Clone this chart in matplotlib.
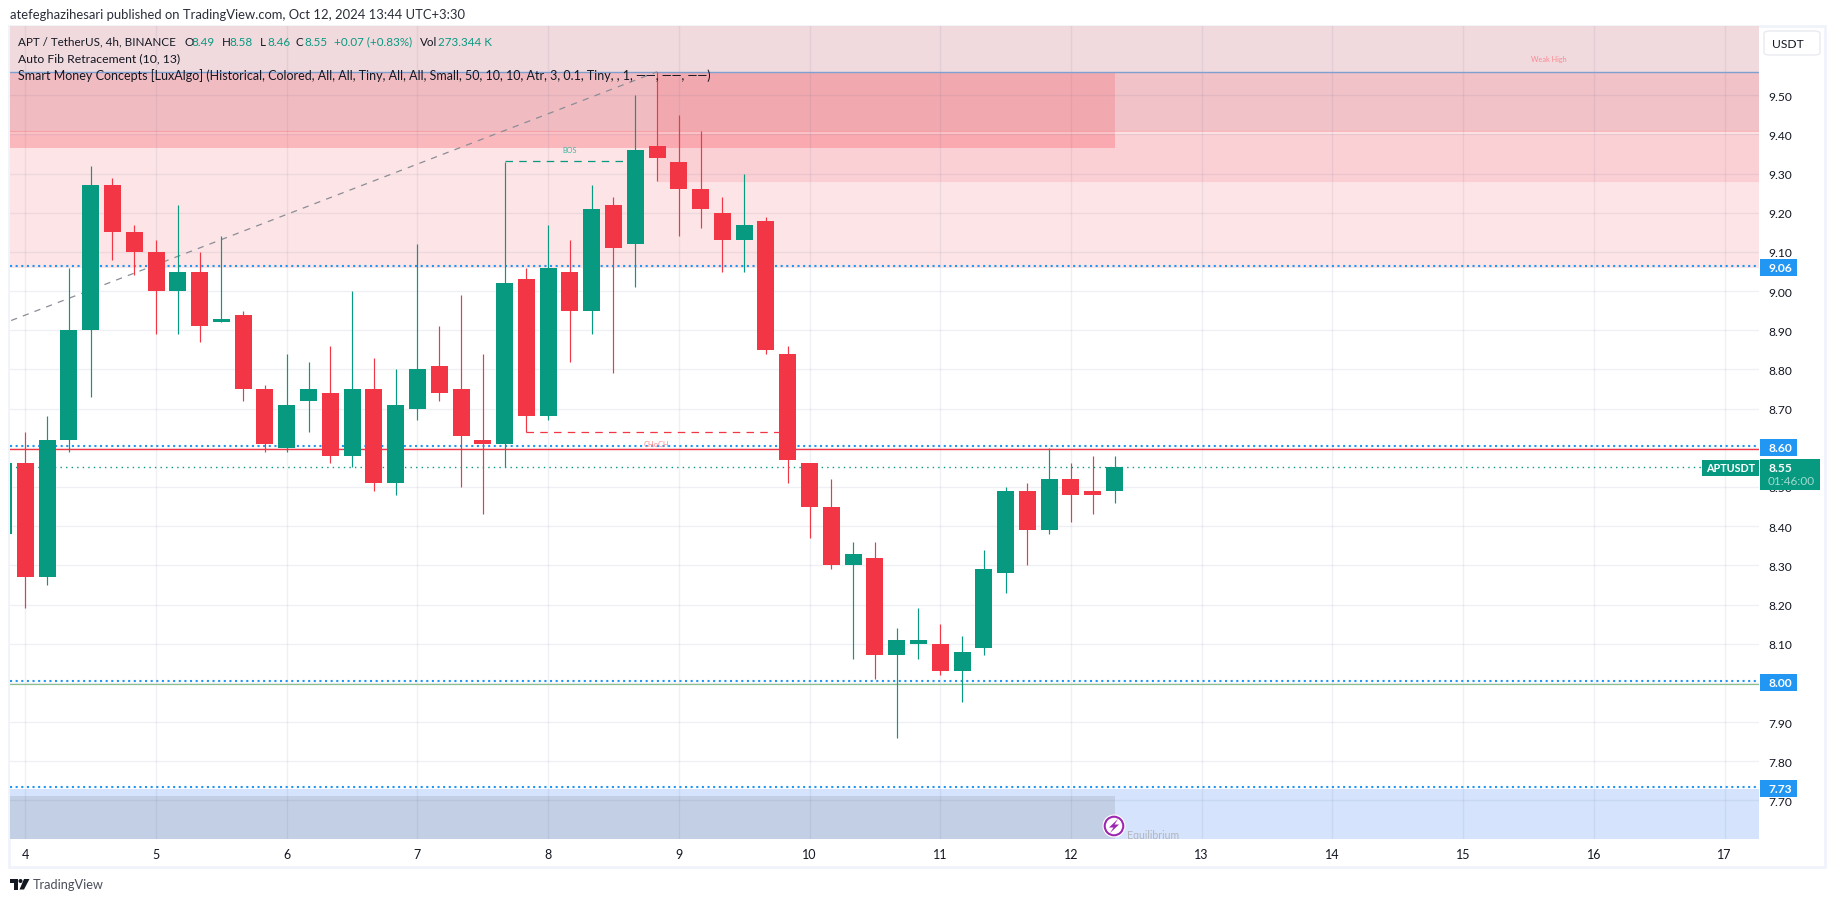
import numpy as np
import matplotlib
matplotlib.use("Agg")
import matplotlib.pyplot as plt
from matplotlib.patches import Rectangle, FancyBboxPatch, Circle, Polygon

W, H = 1835, 903
plt.rcParams['font.family'] = ['Lato', 'DejaVu Sans']

GREEN = '#089981'
RED = '#f23645'
BLUE = '#2196f3'
INK = '#131722'

# first entry is the cut-off candle before the day 4 open
opens = [8.38, 8.56, 8.27, 8.62, 8.90, 9.27, 9.15, 9.10, 9.00, 9.05, 8.92, 8.94, 8.75, 8.60, 8.72, 8.74, 8.58, 8.75, 8.51,
         8.70, 8.81, 8.75, 8.62, 8.61, 9.03, 8.68, 9.05, 8.95, 9.22, 9.12, 9.37, 9.33, 9.26, 9.20, 9.13, 9.18, 8.84,
         8.56, 8.45, 8.30, 8.32, 8.07, 8.10, 8.10, 8.03, 8.09, 8.28, 8.49, 8.39, 8.52, 8.49, 8.49]
highs = [8.56, 8.64, 8.68, 9.06, 9.32, 9.29, 9.17, 9.13, 9.22, 9.10, 9.14, 8.95, 8.76, 8.84, 8.82, 8.86, 9.00, 8.83, 8.80,
         9.12, 8.91, 8.99, 8.84, 9.33, 9.06, 9.17, 9.13, 9.27, 9.24, 9.50, 9.56, 9.45, 9.41, 9.24, 9.30, 9.19, 8.86,
         8.56, 8.52, 8.36, 8.36, 8.14, 8.19, 8.15, 8.12, 8.34, 8.50, 8.51, 8.60, 8.56, 8.58, 8.58]
lows = [8.38, 8.19, 8.25, 8.59, 8.73, 9.08, 9.04, 8.89, 8.89, 8.87, 8.92, 8.72, 8.59, 8.59, 8.64, 8.56, 8.55, 8.49, 8.48,
        8.67, 8.72, 8.50, 8.43, 8.55, 8.64, 8.67, 8.82, 8.89, 8.79, 9.01, 9.28, 9.14, 9.16, 9.05, 9.05, 8.84, 8.51,
        8.37, 8.29, 8.06, 8.01, 7.86, 8.06, 8.02, 7.95, 8.07, 8.23, 8.30, 8.38, 8.41, 8.43, 8.46]
closes = [8.56, 8.27, 8.62, 8.90, 9.27, 9.15, 9.10, 9.00, 9.05, 8.91, 8.93, 8.75, 8.61, 8.71, 8.75, 8.58, 8.75, 8.51, 8.71,
          8.80, 8.74, 8.63, 8.61, 9.02, 8.68, 9.06, 8.95, 9.21, 9.11, 9.36, 9.34, 9.26, 9.21, 9.13, 9.17, 8.85, 8.57,
          8.45, 8.30, 8.33, 8.07, 8.11, 8.11, 8.03, 8.08, 8.29, 8.49, 8.39, 8.52, 8.48, 8.48, 8.55]

day_labels = [4, 5, 6, 7, 8, 9, 10, 11, 12, 13, 14, 15, 16, 17]
price_ticks = [7.7, 7.8, 7.9, 8.0, 8.1, 8.2, 8.3, 8.4, 8.5, 8.6, 8.7, 8.8, 8.9, 9.0, 9.1, 9.2, 9.3, 9.4, 9.5]
level_prices = [9.06, 8.60, 8.00, 7.73]
last_price = 8.55


def fx(px):
    return px / W


def fy(py):
    return 1 - py / H


def put(px, py, s, size=13, color=INK, **kw):
    # size in image pixels
    kw.setdefault('va', 'center')
    return fig.text(fx(px), fy(py), s, fontsize=size * 0.72, color=color, **kw)


fig = plt.figure(figsize=(W / 100, H / 100), dpi=100, facecolor='white')

# chart frame
fig.add_artist(Rectangle((fx(9), fy(868)), fx(1825 - 9), 841 / H, transform=fig.transFigure,
                         fc='none', ec='#f0f3fa', lw=2, zorder=-1))

left, right, top, bottom = 10, 1759, 27, 840
ax = fig.add_axes([fx(left), fy(bottom), fx(right - left), (bottom - top) / H])

# 1 bar = 21.785 px, 1.0 price = 391.7 px
ax.set_xlim((left - 25.3) / 21.785, (right - 25.3) / 21.785)
ax.set_ylim(9.5 - (bottom - 96.3) / 391.7, 9.5 + (96.3 - top) / 391.7)
ymin, ymax = ax.get_ylim()
xmin, xmax = ax.get_xlim()

bar_x = np.arange(len(opens)) - 1
o, h_, l_, c = map(np.array, (opens, highs, lows, closes))
cols = np.where(c >= o, GREEN, RED)

ax.set_axisbelow('line')
ax.grid(True, color='#4a5a90', alpha=0.085, lw=1.0)
ax.set_xticks([(d - 4) * 6 for d in day_labels])
ax.set_xticklabels(day_labels, fontsize=12.5 * 0.72, color=INK)
ax.set_yticks(price_ticks)
ax.set_yticklabels([f'{p:.2f}' for p in price_ticks], fontsize=12 * 0.72, color=INK)
ax.yaxis.tick_right()
ax.tick_params(axis='both', length=0)
ax.tick_params(axis='y', pad=6.5)
ax.tick_params(axis='x', pad=6.5)
for s in ax.spines.values():
    s.set_visible(False)

# supply / demand zones
ax.axhspan(9.06, ymax, fc=RED, alpha=0.135, lw=0, zorder=1)
ax.axhspan(9.41, ymax, fc='#787b86', alpha=0.09, lw=0, zorder=1)
ax.add_patch(Rectangle((xmin, 9.365), 50 - xmin, 9.56 - 9.365, fc=RED, alpha=0.18, lw=0, zorder=1))
ax.add_patch(Rectangle((xmin, 9.365), 50 - xmin, 9.40 - 9.365, fc=RED, alpha=0.08, lw=0, zorder=1))
ax.add_patch(Rectangle((29, 9.41), xmax - 29, 9.56 - 9.41, fc=RED, alpha=0.14, lw=0, zorder=1))
ax.add_patch(Rectangle((29, 9.28), xmax - 29, 9.40 - 9.28, fc=RED, alpha=0.11, lw=0, zorder=1))
ax.axhspan(ymin, 7.73, fc='#2d79f0', alpha=0.2, lw=0, zorder=1)
ax.add_patch(Rectangle((xmin, ymin), 50 - xmin, 7.71 - ymin, fc='#787b86', alpha=0.2, lw=0, zorder=1))
ax.axhline(9.41, color=RED, alpha=0.25, lw=0.8, zorder=1.1)
ax.axhline(9.28, color=RED, alpha=0.12, lw=0.8, xmin=(29 - xmin) / (xmax - xmin), zorder=1.1)
ax.axhline(9.56, color='#7f9fd0', lw=1.0, zorder=1.6)

# fib line
ax.plot([-0.65, 29], [8.925, 9.56], color='#8a8d96', lw=0.9, ls=(0, (5, 5)), zorder=1.6)

# levels
ax.axhline(8.596, color=RED, lw=1.0, zorder=1.6)
ax.axhline(7.996, color='#8cc08e', lw=0.9, zorder=1.6)
for p in level_prices:
    ax.axhline(p + 0.004, color=BLUE, lw=1.5, ls=(0, (1, 1.7)), zorder=1.7)

# BOS / CHoCH
ax.plot([22, 28], [9.331, 9.331], color=GREEN, lw=0.9, ls=(0, (6, 5)), zorder=1.8)
ax.plot([23, 35], [8.64, 8.64], color=RED, lw=0.9, ls=(0, (6, 5)), zorder=1.8)
ax.text(25, 9.361, 'BOS', color='#45b5a0', fontsize=5.2, ha='center', va='center', zorder=2)
ax.text(28.95, 8.612, 'CHoCH', color='#f98a92', fontsize=5.4, ha='center', va='center', zorder=2)
ax.text(69.94, 9.593, 'Weak High', color='#f98a92', fontsize=5.2, ha='center', va='center', zorder=2)

# last price
ax.plot([xmin, (1701 - 25.3) / 21.785], [last_price, last_price], color=GREEN, lw=1.0,
        ls=(0, (1, 3)), zorder=1.9)

# candles
ax.vlines(bar_x, l_, h_, colors=cols, lw=0.85, zorder=3)
ax.bar(bar_x, c - o, bottom=o, width=17 / 21.785, color=cols, lw=0, zorder=4)

# Equilibrium marker
ax.text(50.57, 7.612, 'Equilibrium', color='#b2b5be', fontsize=7.6, ha='left', va='center', zorder=5, clip_on=True)
fig.add_artist(Circle((1114, H - 827), 11.5, transform=None, fc='white', lw=0, zorder=6))
fig.add_artist(Circle((1114, H - 827), 9.3, transform=None, fc='white', ec='#9c27b0', lw=1.5, zorder=6))
fig.add_artist(Polygon([[1118, H - 820], [1109, H - 828.5], [1113.5, H - 828.5], [1110, H - 834],
                        [1119, H - 825.5], [1114.5, H - 825.5]],
                       transform=None, fc='#9c27b0', lw=0, zorder=7))

# header
put(10, 15, 'atefeghazihesari published on TradingView.com, Oct 12, 2024 13:44 UTC+3:30', size=13, color='#2a2e39')

# legend rows
put(18, 42, 'APT / TetherUS, 4h, BINANCE', size=11.6)
for px, s, col in [(184, 'O', INK), (191, '8.49', GREEN), (222, 'H', INK), (229, '8.58', GREEN),
                   (260, 'L', INK), (267, '8.46', GREEN), (296, 'C', INK), (304, '8.55', GREEN),
                   (334, '+0.07 (+0.83%)', GREEN), (420, 'Vol', INK), (438, '273.344 K', GREEN)]:
    put(px, 42, s, size=11.6, color=col)
put(18, 59, 'Auto Fib Retracement (10, 13)', size=12.25)
put(18, 76, 'Smart Money Concepts [LuxAlgo] (Historical, Colored, All, All, Tiny, All, All, Small, 50, 10, 10, '
            'Atr, 3, 0.1, Tiny, , 1, \u2014\u2014, \u2014\u2014, \u2014\u2014)', size=12.55)

# USDT button
fig.add_artist(FancyBboxPatch((fx(1764), fy(56)), fx(56), 24 / H, transform=fig.transFigure,
                              boxstyle='round,pad=0,rounding_size=0.003', fc='white', ec='#e8eaf0', lw=1, zorder=5))
put(1772, 44.5, 'USDT', size=12, zorder=6)

# price badges
for p in level_prices:
    py = 96.3 + (9.5 - p) * 391.7
    fig.add_artist(Rectangle((fx(1760), fy(py + 8.5)), fx(37), 17 / H, transform=fig.transFigure, fc=BLUE, lw=0, zorder=5))
    put(1768, py, f'{p:.2f}', size=12, color='white', fontweight='bold', zorder=6)

fig.add_artist(Rectangle((fx(1760), fy(491)), fx(60), 31 / H, transform=fig.transFigure, fc=GREEN, lw=0, zorder=5))
put(1768, 468.5, f'{last_price:.2f}', size=12, color='white', fontweight='bold', zorder=6)
put(1768, 482, '01:46:00', size=11.8, color='#9fdccf', zorder=6)
fig.add_artist(Rectangle((fx(1702), fy(477)), fx(57), 16.5 / H, transform=fig.transFigure, fc=GREEN, lw=0, zorder=5))
put(1706, 469, 'APTUSDT', size=10.8, color='white', fontweight='bold', zorder=6)

# logo + wordmark
fig.add_artist(Polygon([[fx(10), fy(880)], [fx(18), fy(880)], [fx(18), fy(890.5)], [fx(14), fy(890.5)],
                        [fx(14), fy(884)], [fx(10), fy(884)]], transform=fig.transFigure, fc='#131722', lw=0))
fig.add_artist(Circle((20.5, H - 882), 2, transform=None, fc='#131722', lw=0))
fig.add_artist(Polygon([[fx(24), fy(880)], [fx(29.5), fy(880)], [fx(24), fy(890.5)], [fx(19.5), fy(890.5)]],
                       transform=fig.transFigure, fc='#131722', lw=0))
put(33, 885.5, 'TradingView', size=12.7, color='#4a4e59')

fig.savefig('out.png', dpi=100)
